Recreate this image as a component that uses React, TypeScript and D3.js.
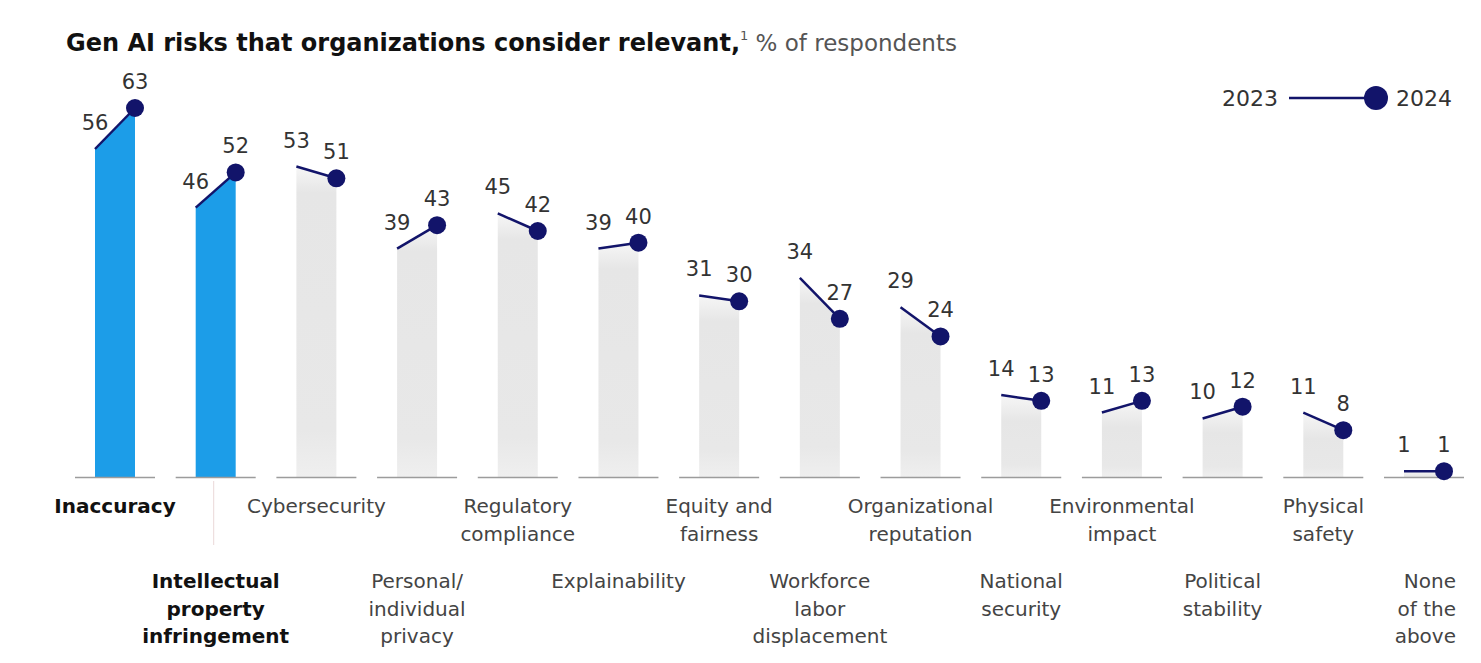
import React from "react";
import * as d3 from "d3";

const categories = [
  "Inaccuracy",
  "Intellectual property infringement",
  "Cybersecurity",
  "Personal/individual privacy",
  "Regulatory compliance",
  "Explainability",
  "Equity and fairness",
  "Workforce labor displacement",
  "Organizational reputation",
  "National security",
  "Environmental impact",
  "Political stability",
  "Physical safety",
  "None of the above",
];

const labelLines = [
  ["Inaccuracy"],
  ["Intellectual", "property", "infringement"],
  ["Cybersecurity"],
  ["Personal/", "individual", "privacy"],
  ["Regulatory", "compliance"],
  ["Explainability"],
  ["Equity and", "fairness"],
  ["Workforce", "labor", "displacement"],
  ["Organizational", "reputation"],
  ["National", "security"],
  ["Environmental", "impact"],
  ["Political", "stability"],
  ["Physical", "safety"],
  ["None", "of the", "above"],
];

const values2023 = [56, 46, 53, 39, 45, 39, 31, 34, 29, 14, 11, 10, 11, 1];
const values2024 = [63, 52, 51, 43, 42, 40, 30, 27, 24, 13, 13, 12, 8, 1];
const highlighted = ["Inaccuracy", "Intellectual property infringement"];
const legendYears = ["2023", "2024"];

const W = 1481;
const H = 663;
const NAVY = "#12146a";
const BLUE = "#1c9de8";
const FONT = "'DejaVu Sans', Verdana, sans-serif";

export default function App() {
  const x = d3.scalePoint<string>().domain(categories).range([115, 1424]);
  const y = d3.scaleLinear().domain([0, 63]).range([477, 108]);
  const halfBar = 20;
  const halfSeg = 40;

  return (
    <svg
      width={W}
      height={H}
      viewBox={`0 0 ${W} ${H}`}
      style={{ position: "fixed", left: 0, top: 0, background: "#fff" }}
    >
      <defs>
        {categories.map((c, i) => {
          const top = Math.min(y(values2023[i]), y(values2024[i]));
          return (
            <linearGradient
              key={c}
              id={`g${i}`}
              gradientUnits="userSpaceOnUse"
              x1={0}
              x2={0}
              y1={top}
              y2={y(0)}
            >
              <stop offset="0" stopColor="#f6f6f6" />
              <stop offset={Math.min(0.9, 26 / Math.max(1, y(0) - top))} stopColor="#e6e6e6" />
              <stop offset="0.85" stopColor="#e8e8e8" />
              <stop offset="1" stopColor="#efefef" />
            </linearGradient>
          );
        })}
      </defs>

      {/* Title */}
      <text x={66} y={51} fontFamily={FONT} fontSize={24} fill="#111">
        <tspan fontWeight="bold">Gen AI risks that organizations consider relevant,</tspan>
        <tspan fontSize={13} dy={-11} fill="#555">1</tspan>
        <tspan dy={11} fill="#555" fontSize={23}> % of respondents</tspan>
      </text>

      {/* Legend */}
      <text x={1278} y={106} textAnchor="end" fontFamily={FONT} fontSize={22} fill="#333">
        {legendYears[0]}
      </text>
      <line x1={1289} x2={1372} y1={98} y2={98} stroke={NAVY} strokeWidth={2.5} />
      <circle cx={1376} cy={98} r={12} fill={NAVY} />
      <text x={1396} y={106} fontFamily={FONT} fontSize={22} fill="#333">
        {legendYears[1]}
      </text>

      {categories.map((c, i) => {
        const cx = x(c) as number;
        const isHi = highlighted.includes(c);
        const y0 = y(0);
        const y23 = y(values2023[i]);
        const y24 = y(values2024[i]);
        const path = d3.path();
        path.moveTo(cx - halfBar, y0);
        path.lineTo(cx - halfBar, y23);
        path.lineTo(cx + halfBar, y24);
        path.lineTo(cx + halfBar, y0);
        path.closePath();
        const row = i % 2;
        const baseY = row === 0 ? 513 : 588;
        const isLast = i === categories.length - 1;
        return (
          <g key={c}>
            <path d={path.toString()} fill={isHi ? BLUE : `url(#g${i})`} />
            <line
              x1={cx - halfSeg}
              x2={cx + halfSeg}
              y1={y0 + 0.5}
              y2={y0 + 0.5}
              stroke="#9c9c9c"
              strokeWidth={1.5}
            />
            <line
              x1={cx - halfBar}
              y1={y23}
              x2={cx + halfBar}
              y2={y24}
              stroke={NAVY}
              strokeWidth={2.5}
            />
            <circle cx={cx + halfBar} cy={y24} r={9} fill={NAVY} />
            <text
              x={cx - halfBar}
              y={y23 - 19}
              textAnchor="middle"
              fontFamily={FONT}
              fontSize={21}
              fill="#333"
            >
              {values2023[i]}
            </text>
            <text
              x={cx + halfBar}
              y={y24 - 19}
              textAnchor="middle"
              fontFamily={FONT}
              fontSize={21}
              fill="#333"
            >
              {values2024[i]}
            </text>
            {isHi && row === 1 && (
              <line x1={cx - 2} x2={cx - 2} y1={y0 + 4} y2={545} stroke="#ead8d8" strokeWidth={1} />
            )}
            <text
              x={isLast ? cx + 32 : cx}
              y={baseY}
              textAnchor={isLast ? "end" : "middle"}
              fontFamily={FONT}
              fontSize={20}
              fontWeight={isHi ? "bold" : "normal"}
              fill={isHi ? "#111" : "#444"}
            >
              {labelLines[i].map((ln, k) => (
                <tspan key={k} x={isLast ? cx + 32 : cx} dy={k === 0 ? 0 : 27.5}>
                  {ln}
                </tspan>
              ))}
            </text>
          </g>
        );
      })}
    </svg>
  );
}
